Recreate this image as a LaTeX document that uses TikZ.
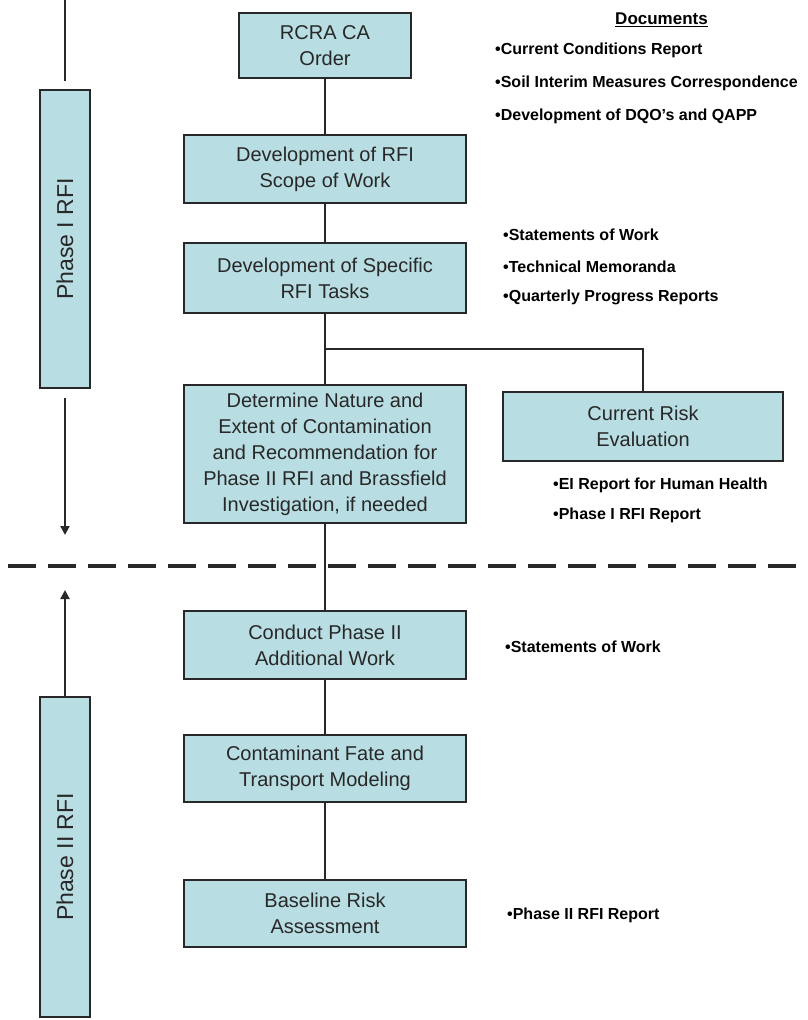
\documentclass[tikz,border=0pt]{standalone}
\usepackage{fontspec}
\setmainfont{Liberation Sans}
\usetikzlibrary{arrows.meta}
\definecolor{boxfill}{RGB}{184,221,226}
\definecolor{ink}{RGB}{40,40,40}
\begin{document}
\begin{tikzpicture}[x=1pt,y=-1pt,
  stepbox/.style={draw=ink, fill=boxfill, line width=1.8pt, inner sep=0pt, align=center, text=ink, font=\fontsize{20}{26}\selectfont},
  phasebox/.style={draw=ink, fill=boxfill, line width=1.8pt, inner sep=0pt, rotate=90, text=ink, font=\fontsize{23}{28}\selectfont},
  doc/.style={anchor=west, inner sep=0pt, text=black, font=\bfseries\fontsize{16}{19}\selectfont},
  link/.style={draw=ink, line width=2pt},
  phasearrow/.style={draw=ink, line width=2pt, -{Triangle[width=9pt,length=9pt]}},
  divider/.style={draw=ink, line width=4pt, dash pattern=on 28pt off 12pt},
]
\useasboundingbox (0,0) rectangle (808,1020);

% main column
\node[stepbox, minimum width=172, minimum height=65] (rcra) at (325,45.5) {RCRA CA\\Order};
\node[stepbox, minimum width=282, minimum height=68] (scope) at (325,169) {Development of RFI\\Scope of Work};
\node[stepbox, minimum width=282, minimum height=70] (spec) at (325,278) {Development of Specific\\RFI Tasks};
\node[stepbox, minimum width=282, minimum height=138] (det) at (325,454) {Determine Nature and\\Extent of Contamination\\and Recommendation for\\Phase II RFI and Brassfield\\Investigation, if needed};
\node[stepbox, minimum width=280, minimum height=69] (risk) at (643,426.5) {Current Risk\\Evaluation};
\node[stepbox, minimum width=282, minimum height=68] (cond) at (325,645) {Conduct Phase II\\Additional Work};
\node[stepbox, minimum width=282, minimum height=67] (fate) at (325,768.5) {Contaminant Fate and\\Transport Modeling};
\node[stepbox, minimum width=282, minimum height=67] (base) at (325,913.5) {Baseline Risk\\Assessment};

\coordinate (br) at (325,349);
\draw[link] (rcra.south) -- (scope.north);
\draw[link] (scope.south) -- (spec.north);
\draw[link] (spec.south) -- (det.north);
\draw[link] (br) -| (risk.north);
\draw[link] (det.south) -- (cond.north);
\draw[link] (cond.south) -- (fate.north);
\draw[link] (fate.south) -- (base.north);

% phase column
\node[phasebox, minimum width=298, minimum height=50] (p1) at (65,239) {Phase I RFI};
\node[phasebox, minimum width=320, minimum height=50] (p2) at (65,857) {Phase II RFI};
\coordinate (p1top) at (65,0);
\coordinate (p1tip) at (65,535);
\coordinate (p2tip) at (65,590);
\draw[link] (p1top) -- ([yshift=8pt]p1.east);
\draw[phasearrow] ([yshift=-9pt]p1.west) -- (p1tip);
\draw[phasearrow] (p2.east) -- (p2tip);

% divider
\coordinate (dl) at (8,566);
\coordinate (dr) at (802,566);
\draw[divider] (dl) -- (dr);

% documents
\node[doc, anchor=east, font=\bfseries\fontsize{17}{20}\selectfont] (dochead) at (708,20) {\underline{Documents}};
\node[doc] (d1) at (495,50) {•Current Conditions Report};
\node[doc] (d2) at (495,83) {•Soil Interim Measures Correspondence};
\node[doc] (d3) at (495,116) {•Development of DQO's and QAPP};
\node[doc] (s1) at (503,235) {•Statements of Work};
\node[doc] (s2) at (503,267) {•Technical Memoranda};
\node[doc] (s3) at (503,297) {•Quarterly Progress Reports};
\node[doc] (e1) at (553,485) {•EI Report for Human Health};
\node[doc] (e2) at (553,515) {•Phase I RFI Report};
\node[doc] (c1) at (505,647) {•Statements of Work};
\node[doc] (b1) at (507,915) {•Phase II RFI Report};
\end{tikzpicture}
\end{document}
